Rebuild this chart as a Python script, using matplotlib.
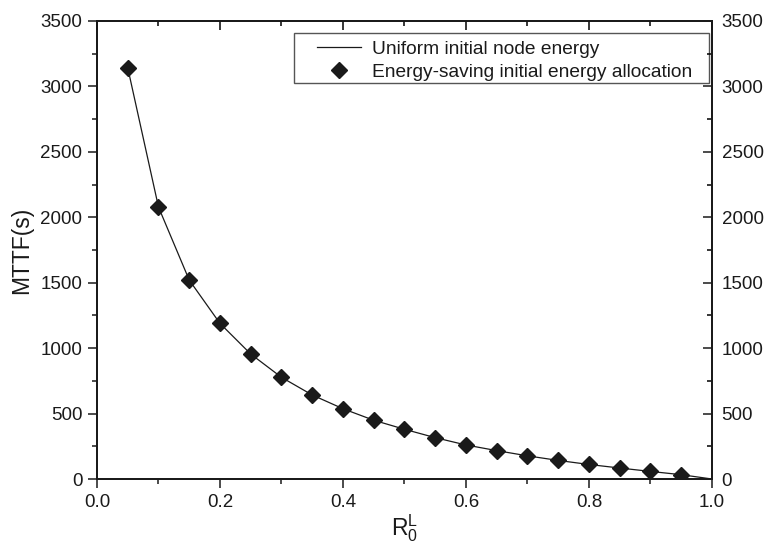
import numpy as np
import matplotlib.pyplot as plt
from matplotlib.ticker import MultipleLocator
from matplotlib.patches import Rectangle

plt.rcParams['font.family'] = ['Liberation Sans', 'DejaVu Sans']
plt.rcParams['mathtext.fontset'] = 'custom'
plt.rcParams['mathtext.rm'] = 'Liberation Sans'

# data
r0 = [0.05, 0.10, 0.15, 0.20, 0.25, 0.30, 0.35, 0.40, 0.45, 0.50,
      0.55, 0.60, 0.65, 0.70, 0.75, 0.80, 0.85, 0.90, 0.95]
mttf_saving = [3142, 2078, 1520, 1189, 955, 777, 642, 537, 449, 380,
               316, 260, 217, 177, 142, 111, 84, 58, 33]
r0_uniform = r0 + [1.0]
mttf_uniform = mttf_saving + [0]

ink = '#1a1a1a'

fig = plt.figure(figsize=(7.68, 5.48), dpi=100)
ax = fig.add_axes([0.1263, 0.1259, 0.8007, 0.8358])

ax.plot(r0_uniform, mttf_uniform, color=ink, lw=0.9,
        label='Uniform initial node energy')
ax.plot(r0, mttf_saving, ls='none', marker='D', ms=8.5, color=ink,
        label='Energy-saving initial energy allocation')

ax.set_xlim(0, 1.0)
ax.set_ylim(0, 3500)
ax.xaxis.set_major_locator(MultipleLocator(0.2))
ax.xaxis.set_minor_locator(MultipleLocator(0.1))
ax.yaxis.set_major_locator(MultipleLocator(500))
ax.yaxis.set_minor_locator(MultipleLocator(250))
ax.tick_params(which='major', direction='out', length=6.5, width=1.1,
               labelsize=13.5, colors=ink, pad=4)
ax.tick_params(which='minor', direction='out', length=3.5, width=1.1, colors=ink)
for s in ax.spines.values():
    s.set_linewidth(1.2)
    s.set_color(ink)

# mirrored axes (right with labels, top without), ticks pointing in
axr = ax.twinx()
axr.set_ylim(0, 3500)
axr.yaxis.set_major_locator(MultipleLocator(500))
axr.yaxis.set_minor_locator(MultipleLocator(250))
axr.tick_params(which='major', direction='in', length=6.5, width=1.1,
                labelsize=13.5, colors=ink, pad=7)
axr.tick_params(which='minor', direction='in', length=3.5, width=1.1)
axt = ax.twiny()
axt.set_xlim(0, 1.0)
axt.xaxis.set_major_locator(MultipleLocator(0.2))
axt.xaxis.set_minor_locator(MultipleLocator(0.1))
axt.tick_params(which='major', direction='in', length=6.5, width=1.1,
                labeltop=False)
axt.tick_params(which='minor', direction='in', length=3.5, width=1.1)
for a in (axr, axt):
    for s in a.spines.values():
        s.set_linewidth(1.2)
        s.set_color(ink)

ax.set_xlabel(r'$\mathregular{R_0^L}$', fontsize=16.5, color=ink, labelpad=1)
ax.set_ylabel('MTTF(s)', fontsize=16.5, color=ink, labelpad=5)

# legend box like the Origin one
ax.add_patch(Rectangle((0.3203, 0.8646), 0.6748, 0.1092, transform=ax.transAxes,
                       fill=False, edgecolor='#555555', lw=1.0, zorder=5,
                       clip_on=False))
leg = ax.legend(loc='upper left', bbox_to_anchor=(0.3577, 0.957),
                fontsize=13.8, frameon=False, handlelength=2.3,
                borderpad=0, labelspacing=0.28, handletextpad=0.57,
                borderaxespad=0)
for t in leg.get_texts():
    t.set_color(ink)

plt.savefig('out.png', dpi=100)
